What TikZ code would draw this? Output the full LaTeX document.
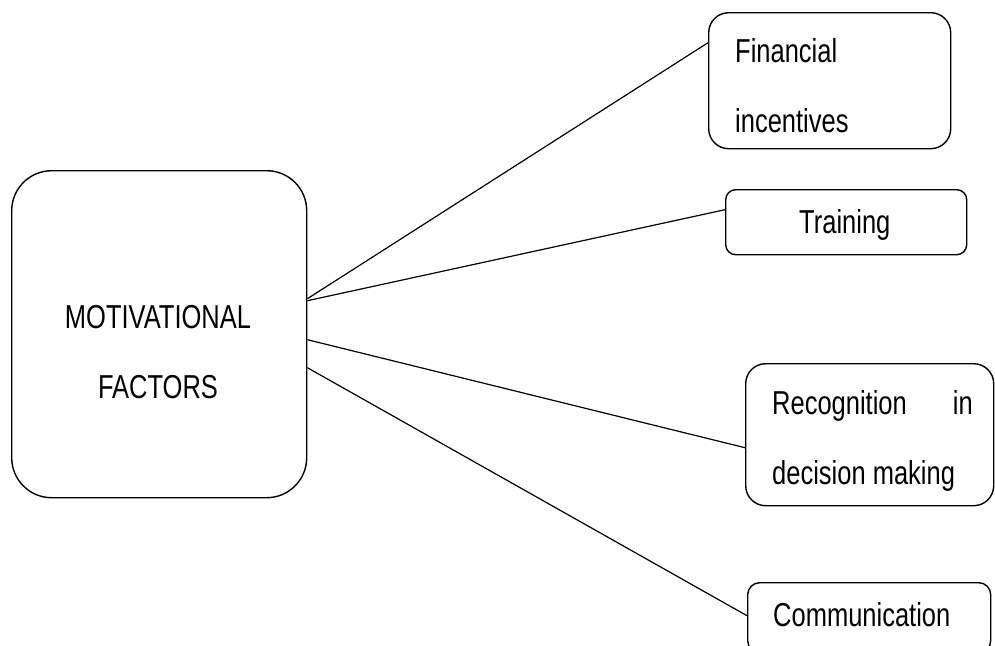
\documentclass[tikz,border=0pt]{standalone}
\usepackage{fontspec}
\setmainfont{Liberation Sans}
\newcommand{\stretchtxt}[1]{\scalebox{1}[1.3]{#1}}
\begin{document}
\begin{tikzpicture}[x=1pt,y=-1pt,
  box/.style={draw,line width=1.4pt,inner sep=0pt,anchor=north west},
  lbl/.style={inner sep=0pt,font=\fontsize{25.5}{30}\selectfont},
  link/.style={line width=1.2pt}]
\clip (0,0) rectangle (995,645);
\useasboundingbox (0,0) rectangle (995,645);
% boxes
\node[box,rounded corners=40pt,minimum width=295pt,minimum height=327pt] (mot) at (11,170) {};
\node[box,rounded corners=20pt,minimum width=242pt,minimum height=136pt] (fin) at (708,12) {};
\node[box,rounded corners=10pt,minimum width=241pt,minimum height=65pt] (train) at (725,189) {};
\node[box,rounded corners=20pt,minimum width=248pt,minimum height=142pt] (rec) at (745,363) {};
\node[box,rounded corners=12pt,minimum width=243pt,minimum height=70pt] (comm) at (747,582) {};
% texts
\node[lbl,anchor=base] (m1) at (158,328) {\stretchtxt{MOTIVATIONAL}};
\node[lbl,anchor=base] (m2) at (158,398) {\stretchtxt{FACTORS}};
\node[lbl,anchor=base west] (f1) at (735,62) {\stretchtxt{Financial}};
\node[lbl,anchor=base west] (f2) at (735,132) {\stretchtxt{incentives}};
\node[lbl,anchor=base west] (t1) at (799,233) {\stretchtxt{Training}};
\node[lbl,anchor=base west] (r1) at (772,414) {\stretchtxt{Recognition}};
\node[lbl,anchor=base east] (r2) at (973,414) {\stretchtxt{in}};
\node[lbl,anchor=base west] (r3) at (772,484) {\stretchtxt{decision making}};
\node[lbl,anchor=base west] (c1) at (773,626) {\stretchtxt{Communication}};
% connectors
\draw[link] ([yshift=35.5pt]mot.east) -- ([yshift=38pt]fin.west);
\draw[link] ([yshift=33.5pt]mot.east) -- ([yshift=12.5pt]train.west);
\draw[link] ([yshift=-5.5pt]mot.east) -- ([yshift=-13pt]rec.west);
\draw[link] ([yshift=-33.5pt]mot.east) -- ([yshift=2pt]comm.west);
\end{tikzpicture}
\end{document}
